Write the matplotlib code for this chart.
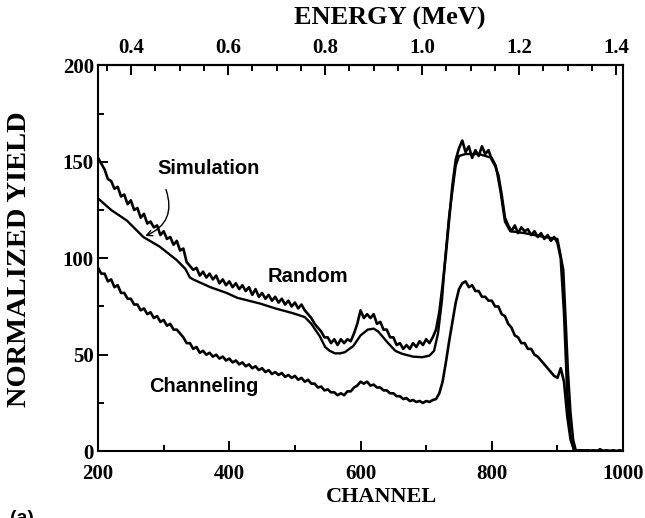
import matplotlib.pyplot as plt
import matplotlib.ticker as plticker
import numpy as np

plt.rcParams['font.family'] = 'Liberation Serif'
plt.rcParams['font.weight'] = 'bold'

# channel grid for the measured spectra (every 5 channels)
channel = np.arange(200, 1001, 5)

random_yield = [
    152, 149, 146, 141, 140, 136, 137, 132, 133, 128, 130, 125, 126, 121, 123, 118,
    119, 116, 117, 112, 114, 110, 111, 107, 109, 104, 105, 98, 96, 94, 95, 91,
    93, 90, 92, 89, 91, 87, 89, 86, 88, 85, 87, 84, 86, 83, 85, 81,
    84, 80, 82, 79, 81, 78, 80, 77, 79, 76, 78, 75, 77, 74, 76, 73,
    71, 69, 66, 64, 62, 59, 59, 56, 58, 55, 58, 56, 58, 57, 61, 66,
    73, 69, 71, 69, 71, 66, 67, 63, 63, 59, 59, 55, 56, 53, 55, 53,
    56, 54, 57, 55, 58, 56, 59, 63, 72, 86, 102, 120, 138, 151, 157, 161,
    155, 158, 152, 156, 153, 158, 154, 156, 151, 148, 143, 133, 121, 117, 114, 117,
    113, 116, 114, 115, 112, 114, 111, 113, 110, 112, 109, 111, 108, 100, 72, 30,
    8, 1, 0, 0.5, 0, 0.5, 0, 0.5, 0, 1, 0, 0.5, 0, 0.5, 0, 0.5,
    0,
]

channeling_yield = [
    95, 92, 92, 88, 89, 85, 86, 82, 82, 79, 79, 76, 76, 73, 74, 71,
    72, 69, 70, 67, 68, 65, 66, 63, 63, 61, 59, 56, 56, 53, 54, 51,
    52, 50, 51, 49, 50, 48, 49, 47, 48, 46, 47, 45, 46, 44, 45, 43,
    44, 42, 43, 41, 42, 40, 41, 39.5, 40.5, 38.5, 39.5, 38, 39, 37, 38, 36,
    37, 35, 35, 33, 33.5, 31.5, 32, 30.5, 30.5, 29, 30, 29, 31, 31, 33, 34,
    36, 35, 36, 34, 34.5, 33, 33, 31.5, 31.5, 30, 30, 28.5, 28.5, 27, 27.5, 26,
    26.5, 25.5, 26, 25, 26, 25.5, 26.5, 27, 30, 36, 46, 57, 67, 77, 84, 87,
    88, 85, 86, 83, 83, 80, 80, 78, 78, 75, 75, 71, 70, 66, 64, 60,
    59, 56, 56, 53, 53, 50, 49, 47, 45, 43, 41, 39, 38, 43, 36, 18,
    6, 1, 0, 0, 0, 0, 0, 0, 0, 0, 0, 0, 0, 0, 0, 0,
    0,
]

# smooth simulated random spectrum
sim_channel = [200, 220, 244, 269, 294, 320, 333, 340, 345, 371, 396, 412, 447, 470,
               497, 515, 525, 538, 546, 553, 561, 569, 576, 589, 600, 611, 620, 627,
               642, 653, 663, 680, 694, 705, 712, 718, 724, 729, 735, 740, 745, 750,
               760, 780, 800, 806, 813, 820, 828, 850, 880, 900, 904, 909, 913, 916,
               920, 924, 928, 1000]
sim_yield = [131, 125, 119.5, 111, 106, 99, 94.5, 90, 89, 85, 82, 79.5, 76.5, 74,
             71.5, 69.5, 66, 59.5, 54, 52, 50.7, 50.7, 51.3, 54.5, 60, 63, 63.5, 62,
             56, 52, 50.5, 49, 48.7, 49.5, 52, 61, 78, 100, 122, 135, 148, 153,
             154, 154, 152, 148, 135, 119, 114, 113, 111, 110, 103, 94, 65, 42,
             20, 6, 0.5, 0]

energy_ticks = [0.4, 0.6, 0.8, 1.0, 1.2, 1.4]


def ch2e(ch):
    return (np.asarray(ch) + 45.0) / 739.0


def e2ch(e):
    return np.asarray(e) * 739.0 - 45.0


fig = plt.figure(figsize=(6.45, 5.18), dpi=100)
ax = fig.add_axes([0.152, 0.129, 0.814, 0.745])

ax.plot(channel, random_yield, color='black', linewidth=1.9)
ax.plot(channel, channeling_yield, color='black', linewidth=1.9)
ax.plot(sim_channel, sim_yield, color='black', linewidth=1.7)

ax.set_xlim(200, 1000)
ax.set_ylim(0, 200)
ax.set_xticks(np.arange(200, 1001, 200))
ax.set_yticks(np.arange(0, 201, 50))
ax.xaxis.set_minor_locator(plticker.MultipleLocator(100))
ax.yaxis.set_minor_locator(plticker.MultipleLocator(25))
ax.tick_params(which='both', direction='in', top=False, right=False, width=1.4,
               labelsize=15)
ax.tick_params(which='major', length=7)
ax.tick_params(which='minor', length=4)
ax.tick_params(axis='x', pad=9)
ax.tick_params(axis='y', pad=3)
for s in ax.spines.values():
    s.set_linewidth(1.5)

sec = ax.secondary_xaxis('top', functions=(ch2e, e2ch))
sec.set_xticks(energy_ticks)
sec.xaxis.set_minor_locator(plticker.MultipleLocator(0.05))
sec.xaxis.set_major_formatter(plticker.FormatStrFormatter('%.1f'))
sec.tick_params(which='both', direction='in', width=1.4, labelsize=15, pad=5)
sec.tick_params(which='major', length=7)
sec.tick_params(which='minor', length=4)
sec.spines['top'].set_linewidth(1.5)

fig.text(0.592, 0.040, 'CHANNEL', ha='center', va='center', fontsize=16, fontweight='bold')
fig.text(0.605, 0.964, 'ENERGY (MeV)', ha='center', va='center', fontsize=19, fontweight='bold')
fig.text(0.030, 0.5, 'NORMALIZED YIELD', ha='center', va='center', rotation=90,
         fontsize=20.5, fontweight='bold')

lab = dict(family='Liberation Sans', fontweight='bold', fontsize=14.5, ha='center', va='center')
ax.text(369, 146.5, 'Simulation', **lab)
ax.text(520, 90.5, 'Random', **lab)
ax.text(361, 33.5, 'Channeling', **lab)
ax.annotate('', xy=(268, 111), xytext=(302, 137),
            arrowprops=dict(arrowstyle='->', color='black', lw=1.0,
                            connectionstyle='arc3,rad=-0.5'))

fig.text(0.015, -0.018, '(a)', family='Liberation Sans', fontsize=14, va='bottom')

fig.savefig('out.png', dpi=100)
